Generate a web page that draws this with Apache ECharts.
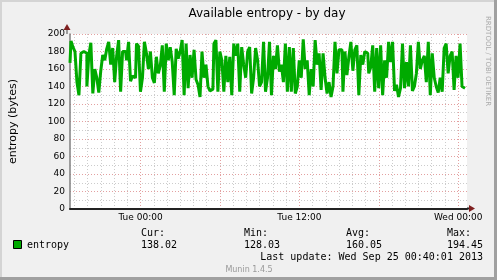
<!DOCTYPE html>
<html>
<head>
<meta charset="utf-8">
<script src="https://cdn.jsdelivr.net/npm/echarts@6/dist/echarts.min.js"></script>
<style>
  html, body { margin: 0; padding: 0; background: #f0f0f0; }
  #chart { width: 497px; height: 280px; }
</style>
</head>
<body>
<div id="chart"></div>
<script>
// time axis in minutes since Mon 18:00; graph spans Mon 18:40 .. Wed 00:40
const startMin = 40;
const endMin = 1840;
const xTickValues = [360, 1080, 1800];
const xTickLabels = ['Tue 00:00', 'Tue 12:00', 'Wed 00:00'];

// entropy (bytes) left to right
const entropy = [
  167, 192, 185, 180, 145, 130, 178, 180, 178, 140, 176, 190, 132, 160, 150, 133, 158, 176, 170, 183,
  191, 165, 184, 145, 175, 193, 134, 180, 180, 170, 191, 146, 152, 150, 189, 186, 134, 150, 191, 178,
  160, 180, 150, 144, 174, 155, 164, 187, 134, 189, 170, 185, 168, 130, 183, 172, 180, 193, 130, 189,
  138, 176, 150, 182, 148, 142, 128, 180, 150, 165, 140, 135, 137, 189, 193, 134, 180, 170, 134, 175,
  145, 174, 130, 189, 175, 189, 134, 185, 165, 150, 180, 185, 132, 150, 184, 170, 140, 145, 191, 134,
  150, 191, 130, 175, 160, 187, 157, 165, 145, 189, 134, 185, 134, 184, 132, 140, 170, 150, 194, 160,
  170, 130, 160, 140, 193, 165, 178, 136, 178, 150, 132, 145, 128, 140, 191, 155, 182, 182, 134, 180,
  153, 174, 191, 158, 182, 187, 130, 176, 165, 180, 178, 155, 162, 187, 134, 184, 138, 187, 130, 170,
  150, 191, 168, 191, 135, 142, 128, 138, 189, 138, 168, 140, 187, 135, 140, 155, 191, 160, 170, 175,
  145, 191, 130, 178, 150, 140, 133, 150, 134, 184, 189, 155, 175, 180, 136, 175, 150, 189, 140, 138
];

const statNames = ['Cur:', 'Min:', 'Avg:', 'Max:'];
const statValues = ['138.02', '128.03', '160.05', '194.45'];
const lastUpdate = 'Last update: Wed Sep 25 00:40:01 2013';

const chart = echarts.init(document.getElementById('chart'));

const step = (endMin - startMin) / entropy.length;
const lineData = entropy.map((v, i) => [startMin + i * step, v]);

// vertical grid: a line every 20 min, only hours shown (grey), every 6h red
const xGridColors = [];
for (let k = 0; k < 18; k++) {
  xGridColors.push(k === 16 ? '#e3a0a0' : (k % 3 === 1 ? '#cccccc' : 'rgba(0,0,0,0)'));
}

const mono = '"DejaVu Sans Mono", monospace';
const sans = '"DejaVu Sans", sans-serif';
const statX = [141, 244, 346, 447];

const graphic = [
  // frame
  { type: 'rect', shape: { x: 0, y: 0, width: 497, height: 2 }, style: { fill: '#d4d4d4' }, silent: true },
  { type: 'rect', shape: { x: 0, y: 0, width: 2, height: 280 }, style: { fill: '#d4d4d4' }, silent: true },
  { type: 'rect', shape: { x: 494, y: 0, width: 3, height: 280 }, style: { fill: '#a0a0a0' }, silent: true },
  { type: 'rect', shape: { x: 0, y: 277, width: 497, height: 3 }, style: { fill: '#a0a0a0' }, silent: true },
  // title
  { type: 'text', x: 267, y: 14, style: { text: 'Available entropy - by day', font: '12px ' + sans, fill: '#000', align: 'center', verticalAlign: 'middle' } },
  // rrdtool credit
  { type: 'text', x: 488, y: 16, rotation: -Math.PI / 2, style: { text: 'RRDTOOL / TOBI OETIKER', font: '7px ' + sans, fill: '#aaaaaa', align: 'left', verticalAlign: 'middle' } },
  // axis arrows
  { type: 'line', shape: { x1: 467, y1: 208.5, x2: 470, y2: 208.5 }, style: { stroke: '#222', lineWidth: 2 } },
  { type: 'polygon', shape: { points: [[469, 205], [475, 208.5], [469, 212]] }, style: { fill: '#7f2020' } },
  { type: 'line', shape: { x1: 67, y1: 34, x2: 67, y2: 30 }, style: { stroke: '#808080', lineWidth: 1.5 } },
  { type: 'polygon', shape: { points: [[63.5, 30], [67, 24], [70.5, 30]] }, style: { fill: '#7f2020' } },
  // legend
  { type: 'rect', shape: { x: 13.5, y: 240.5, width: 8, height: 8 }, style: { fill: '#00aa00', stroke: '#000', lineWidth: 1 } },
  { type: 'text', x: 27, y: 245, style: { text: 'entropy', font: '10px ' + mono, fill: '#000', verticalAlign: 'middle' } },
  { type: 'text', x: 483, y: 257, style: { text: lastUpdate, font: '10px ' + mono, fill: '#000', align: 'right', verticalAlign: 'middle' } },
  { type: 'text', x: 249, y: 269.5, style: { text: 'Munin 1.4.5', font: '8px ' + sans, fill: '#999', align: 'center', verticalAlign: 'middle' } }
];
statNames.forEach((name, i) => {
  graphic.push({ type: 'text', x: statX[i], y: 233, style: { text: name, font: '10px ' + mono, fill: '#000', verticalAlign: 'middle' } });
  graphic.push({ type: 'text', x: statX[i], y: 245, style: { text: statValues[i], font: '10px ' + mono, fill: '#000', verticalAlign: 'middle' } });
});

chart.setOption({
  animation: false,
  backgroundColor: '#f0f0f0',
  grid: { left: 67, top: 34, width: 400, height: 175, show: true, backgroundColor: '#ffffff', borderWidth: 0 },
  xAxis: {
    type: 'value',
    min: startMin,
    max: endMin,
    interval: 20,
    axisLine: { lineStyle: { color: '#222', width: 2 } },
    axisTick: { show: false },
    axisLabel: {
      margin: 4,
      color: '#000',
      fontFamily: 'DejaVu Sans',
      fontSize: 9,
      formatter: v => {
        const k = xTickValues.indexOf(Math.round(v));
        return k >= 0 ? xTickLabels[k] : '';
      }
    },
    splitLine: { show: true, lineStyle: { color: xGridColors, type: [1, 2], width: 1 } }
  },
  yAxis: {
    type: 'value',
    min: 0,
    max: 200,
    interval: 10,
    name: 'entropy (bytes)',
    nameLocation: 'middle',
    nameGap: 51,
    nameTextStyle: { color: '#000', fontFamily: 'DejaVu Sans', fontSize: 11 },
    axisLine: { show: true, lineStyle: { color: '#808080', width: 1.5 } },
    axisTick: { show: false },
    axisLabel: {
      margin: 5,
      color: '#000',
      fontFamily: 'DejaVu Sans',
      fontSize: 9,
      formatter: v => (v % 20 === 0 ? String(v) : '')
    },
    splitLine: { show: true, lineStyle: { color: ['#e3a0a0', '#cccccc'], type: [1, 2], width: 1 } }
  },
  series: [{
    name: 'entropy',
    type: 'line',
    step: 'middle',
    data: lineData,
    showSymbol: false,
    lineStyle: { color: '#00aa00', width: 3, join: 'bevel', cap: 'butt' },
    z: 3
  }],
  graphic: graphic
});
</script>
</body>
</html>
